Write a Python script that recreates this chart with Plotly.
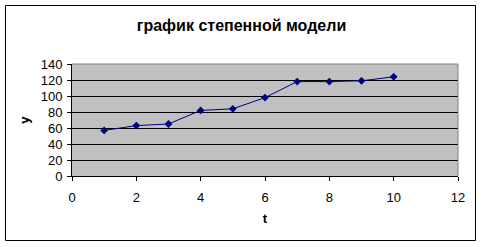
import plotly.graph_objects as go

t = [1, 2, 3, 4, 5, 6, 7, 8, 9, 10]
y = [57, 63, 65, 82, 84, 98, 118, 118, 119, 124]
title_text = "график степенной модели"
x_title = "t"
y_title = "y"

W, H = 483, 247
L, R, T, B = 72, 458, 64, 176

fig = go.Figure()
fig.add_trace(go.Scatter(
    x=t, y=y, mode="lines+markers",
    line=dict(color="#000080", width=1),
    marker=dict(symbol="diamond", size=6, color="#000080"),
    showlegend=False,
))

font = "Liberation Sans, Arial, sans-serif"

def px(xp):
    return (xp - L) / (R - L)

def py(yp):
    return (B - yp) / (B - T)

fig.update_layout(
    width=W, height=H,
    margin=dict(l=L, r=W - R, t=T, b=H - B),
    paper_bgcolor="white",
    plot_bgcolor="#C0C0C0",
    font=dict(family=font, size=13, color="black"),
    title=dict(text="<b>" + title_text + "</b>", x=0.5, xref="container", xanchor="center",
               y=1 - 25 / H, yanchor="middle",
               font=dict(size=16, family=font, color="black")),
    xaxis=dict(range=[0, 12], tickvals=[0, 2, 4, 6, 8, 10, 12], showgrid=False,
               showline=True, linecolor="black", linewidth=1,
               ticks="outside", ticklen=4, tickcolor="black", zeroline=False,
               ticklabelstandoff=5,
               title=dict(text="<b>" + x_title + "</b>", standoff=10, font=dict(size=13))),
    yaxis=dict(range=[0, 140], tickvals=[0, 20, 40, 60, 80, 100, 120, 140],
               showgrid=True, gridcolor="black", gridwidth=1,
               showline=True, linecolor="black", linewidth=1,
               ticks="outside", ticklen=4, tickcolor="black", zeroline=False,
               ticklabelstandoff=2,
               title=dict(text="<b>" + y_title + "</b>", standoff=8, font=dict(size=13))),
    shapes=[
        dict(type="rect", xref="paper", yref="paper",
             x0=px(5.5), x1=px(475.5), y0=py(5.5), y1=py(240.5),
             line=dict(color="black", width=1), layer="below"),
        dict(type="line", xref="paper", yref="paper", x0=0, x1=1, y0=1, y1=1,
             line=dict(color="#808080", width=1), layer="above"),
        dict(type="line", xref="paper", yref="paper", x0=1, x1=1, y0=0, y1=1,
             line=dict(color="#808080", width=1), layer="above"),
    ],
)

fig.write_html("out.html")
